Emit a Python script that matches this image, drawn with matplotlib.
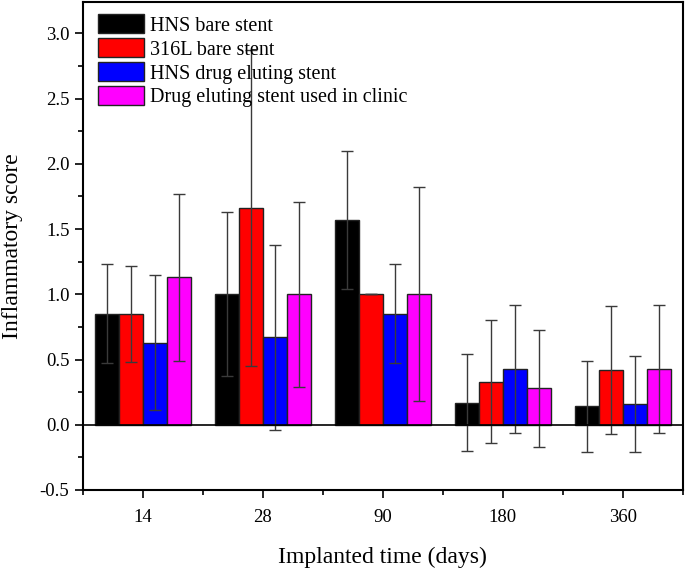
import numpy as np
import matplotlib
matplotlib.use("Agg")
import matplotlib.pyplot as plt
from matplotlib.ticker import MultipleLocator

plt.rcParams["font.family"] = ["Liberation Serif", "DejaVu Serif"]

# ── data ──
days = ["14", "28", "90", "180", "360"]
series = ["HNS bare stent", "316L bare stent", "HNS drug eluting stent",
          "Drug eluting stent used in clinic"]
colors = ["#000000", "#ff0000", "#0000ff", "#ff00ff"]

hns_bare = [0.85, 1.00, 1.57, 0.17, 0.14]
hns_bare_err = [0.38, 0.63, 0.53, 0.37, 0.35]
l316_bare = [0.85, 1.66, 1.00, 0.33, 0.42]
l316_bare_err = [0.37, 1.21, 0.00, 0.47, 0.49]
hns_des = [0.63, 0.67, 0.85, 0.43, 0.16]
hns_des_err = [0.52, 0.71, 0.38, 0.49, 0.37]
clinic_des = [1.13, 1.00, 1.00, 0.28, 0.43]
clinic_des_err = [0.64, 0.71, 0.82, 0.45, 0.49]

values = [hns_bare, l316_bare, hns_des, clinic_des]
errors = [hns_bare_err, l316_bare_err, hns_des_err, clinic_des_err]

fig = plt.figure(figsize=(6.85, 5.72), dpi=100)
ax = fig.add_axes([0.1207, 0.1434, 0.8763, 0.853])

x = np.arange(1, len(days) + 1)
w = 0.2
for i, (vals, errs, label, color) in enumerate(zip(values, errors, series, colors)):
    pos = x + (i - 1.5) * w
    ax.bar(pos, vals, w, color=color, edgecolor="#222222", linewidth=1.0,
           label=label, zorder=2)
    ax.errorbar(pos, vals, yerr=errs, fmt="none", ecolor="#3a3a3a",
                elinewidth=1.0, capsize=4, capthick=1.0, zorder=3)

ax.axhline(0, color="black", lw=1.2, zorder=4)

ax.set_xlim(0.5, 5.5)
ax.set_ylim(-0.5, 3.24)
ax.set_xticks(x)
ax.set_xticklabels(days)
ax.xaxis.set_minor_locator(MultipleLocator(0.5))
yt = np.arange(-0.5, 3.01, 0.5)
ax.set_yticks(yt)
ax.set_yticklabels([f"{v:.1f}" for v in yt])
ax.yaxis.set_minor_locator(MultipleLocator(0.25))

ax.tick_params(which="major", direction="out", length=6, width=1.2, labelsize=13.5)
ax.tick_params(which="minor", direction="out", length=3.5, width=1.2)
ax.tick_params(axis="x", pad=8)
for s in ax.spines.values():
    s.set_linewidth(1.5)

ax.set_xlabel("Implanted time (days)", fontsize=17, labelpad=15)
ax.set_ylabel("Inflammatory score", fontsize=17, labelpad=12)

ax.legend(loc="upper left", frameon=False, fontsize=14.5, handlelength=2.25,
          handleheight=1.1, labelspacing=0.12, handletextpad=0.3,
          borderaxespad=0.3, borderpad=0.3, bbox_to_anchor=(0.006, 1.0))

fig.savefig("out.png", dpi=100)
